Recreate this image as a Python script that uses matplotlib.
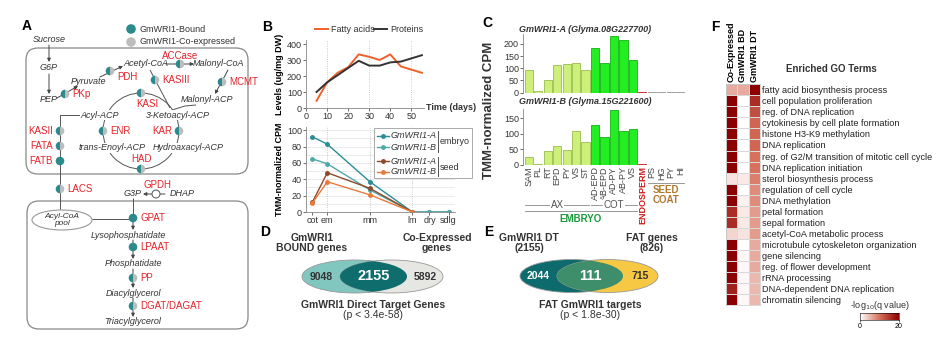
import numpy as np
import matplotlib
matplotlib.use("Agg")
import matplotlib.pyplot as plt
import matplotlib.transforms as mtrans
from matplotlib.patches import Ellipse, FancyBboxPatch, Wedge, Circle
from matplotlib.colors import LinearSegmentedColormap

plt.rcParams['font.family'] = ['Liberation Sans', 'DejaVu Sans']

W, H = 946, 353

# ---- B: seed composition during development
days = [5, 10, 15, 20, 25, 30, 35, 40, 45, 50, 55]
fatty_acids = [45, 160, 220, 255, 335, 320, 300, 335, 260, 240, 220]
proteins = [100, 160, 205, 250, 295, 265, 265, 285, 290, 310, 330]

stages = ['cot', 'em', 'mm', 'lm', 'dry', 'sdlg']
stage_days = [3, 10, 30, 50, 58, 67]
embryo_a = [92, 83, 37, 0, 0, 0]
embryo_b = [65, 59, 27, 0, 0, 0]
seed_a = [12, 48, 29, 0, np.nan, np.nan]
seed_b = [11, 37, 21, 0, np.nan, np.nan]

# ---- C: tissue expression
tissues = ['SAM', 'PL', 'RT', 'EPD', 'PY', 'VS', 'ST', 'AD-EPD', 'AB-EPD', 'AD-PY',
           'AB-PY', 'VS', 'ENDOSPERM', 'PS', 'HG', 'PY', 'HI']
tissue_group = ['AX'] * 7 + ['COT'] * 5 + ['ENDO'] + ['SC'] * 4
wri1a_cpm = [92, 5, 53, 113, 117, 122, 92, 183, 120, 230, 215, 133, 2, 2, 2, 2, 2]
wri1b_cpm = [25, 3, 45, 62, 48, 110, 73, 130, 90, 178, 108, 115, 2, 1, 1, 1, 1]

# ---- D / E: overlaps (left only, shared, right only)
venn_d = [9048, 2155, 5892]
venn_e = [2044, 111, 715]

# ---- F: GO enrichment, -log10(q)
go_terms = ['fatty acid biosynthesis process', 'cell population proliferation',
            'reg. of DNA replication', 'cytokinesis by cell plate formation',
            'histone H3-K9 methylation', 'DNA replication',
            'reg. of G2/M transition of mitotic cell cycle', 'DNA replication initiation',
            'sterol biosynthesis process', 'regulation of cell cycle', 'DNA methylation',
            'petal formation', 'sepal formation', 'acetyl-CoA metabolic process',
            'microtubule cytoskeleton organization', 'gene silencing',
            'reg. of flower development', 'rRNA processing',
            'DNA-dependent DNA replication', 'chromatin silencing']
go_sets = ['Co-Expressed', 'GmWRI1 BD', 'GmWRI1 DT']
q_coexpr = [6, 20, 20, 20, 20, 20, 20, 20, 2, 20, 20, 16, 16, 3, 20, 20, 20, 20, 17, 20]
q_bound = [6, 0, 0, 0, 0, 0, 0, 0, 1.5, 0, 1, 1.5, 1.5, 2, 0, 0.5, 0.5, 0.5, 0.5, 0.5]
q_direct = [20, 16, 13, 11, 11, 11, 10, 10, 9, 8, 8, 7, 7, 7, 6, 6, 6, 5, 5, 5]

TEAL = '#2b8b8c'
GREY = '#bdbdbd'
RED = '#e3242b'
DARK = '#333333'
FS = 6.5


def box(l, t, r, b):
    return [l / W, 1 - b / H, (r - l) / W, (b - t) / H]


def small_axes(ax):
    for s in ('top', 'right'):
        ax.spines[s].set_visible(False)
    for s in ('left', 'bottom'):
        ax.spines[s].set_color('#888888')
        ax.spines[s].set_linewidth(0.6)
    ax.tick_params(labelsize=6.5, length=2, width=0.5, pad=1, colors=DARK)


fig = plt.figure(figsize=(W / 100, H / 100), dpi=100)

# ---------------- B top
axb = fig.add_axes(box(306, 40, 424, 108))
axb.plot(days, fatty_acids, color='#f0602a', lw=1.4)
axb.plot(days, proteins, color='#333333', lw=1.4)
axb.set_xlim(0, 56)
axb.set_ylim(0, 425)
axb.set_xticks([0, 10, 20, 30, 40, 50])
axb.set_yticks([0, 100, 200, 300, 400])
for d in (10, 30, 50):
    axb.axvline(d, color='#bbbbbb', lw=0.6, ls=':', zorder=0)
small_axes(axb)
axb.set_ylabel('Levels (ug/mg DW)', fontsize=6.5, fontweight='bold', labelpad=2)

# ---------------- B bottom
axb2 = fig.add_axes(box(306, 127, 455, 212))
for v in range(10, 101, 10):
    axb2.axhline(v, color='#e3e3e3', lw=0.5, zorder=0)
for d in stage_days[1:4]:
    axb2.axvline(d, color='#bbbbbb', lw=0.6, ls=':', zorder=0)
for vals, c in ((embryo_a, '#2a8d96'), (embryo_b, '#4fa9a9'),
                (seed_a, '#8c4a2a'), (seed_b, '#ea7a3c')):
    axb2.plot(stage_days, vals, color=c, lw=1.0, marker='o', ms=2.5)
axb2.set_xlim(0, 70)
axb2.set_ylim(0, 104)
axb2.set_xticks(stage_days)
axb2.set_xticklabels(stages)
axb2.set_yticks(range(0, 101, 20))
small_axes(axb2)
axb2.set_ylabel('TMM-normalized CPM', fontsize=6.5, fontweight='bold', labelpad=2)

# ---------------- C
colors_c = {'AX': '#ccf07a', 'COT': '#22ee22', 'ENDO': '#d02020', 'SC': '#999999'}
edges_c = {'AX': '#9cbc4c', 'COT': '#16b016', 'ENDO': '#d02020', 'SC': '#999999'}
xc = np.arange(len(tissues))
axc1 = fig.add_axes(box(523, 34, 686, 92.7))
axc2 = fig.add_axes(box(523, 109, 686, 165))
for ax, vals, lim, ticks in ((axc1, wri1a_cpm, 240, [0, 50, 100, 150, 200]),
                             (axc2, wri1b_cpm, 180, [0, 50, 100, 150])):
    ax.bar(xc, vals, width=0.86, color=[colors_c[g] for g in tissue_group],
           edgecolor=[edges_c[g] for g in tissue_group], linewidth=0.6)
    ax.set_xlim(-0.6, len(tissues) - 0.4)
    ax.set_ylim(0, lim)
    ax.set_yticks(ticks)
    small_axes(ax)
    ax.spines['bottom'].set_visible(False)
    ax.tick_params(axis='x', length=0)
axc1.set_xticks([])
axc2.set_xticks(xc)
axc2.set_xticklabels(tissues, rotation=90, fontsize=6.5)
for lab, g in zip(axc2.get_xticklabels(), tissue_group):
    lab.set_color('#d01c1c' if g == 'ENDO' else '#444444')
    if g == 'ENDO':
        lab.set_fontweight('bold')

# ---------------- F heatmap
cmap = LinearSegmentedColormap.from_list('wr', ['#ffffff', '#d6715d', '#8b0000'])
axf = fig.add_axes(box(725.7, 84.3, 760, 305))
mat = np.array([q_coexpr, q_bound, q_direct]).T
axf.pcolormesh(mat, cmap=cmap, vmin=0, vmax=20, edgecolors='#d8d8d8', linewidth=0.4)
axf.set_ylim(len(go_terms), 0)
axf.set_xlim(0, 3)
axf.set_yticks(np.arange(len(go_terms)) + 0.5)
axf.set_yticklabels(go_terms, fontsize=6.6, color='#222222')
axf.yaxis.tick_right()
axf.set_xticks(np.arange(3) + 0.5)
axf.set_xticklabels(go_sets, rotation=90, fontsize=6.5, fontweight='bold')
axf.xaxis.tick_top()
axf.tick_params(length=0, pad=1.5)
for s in axf.spines.values():
    s.set_linewidth(0.4)
    s.set_color('#bbbbbb')

axcb = fig.add_axes(box(860, 313, 899, 320))
axcb.imshow(np.linspace(0, 20, 200)[None, :], cmap=cmap, aspect='auto', extent=[0, 20, 0, 1])
axcb.set_yticks([])
axcb.set_xticks([0, 20])
axcb.tick_params(labelsize=5, length=1.5, width=0.4, pad=0.5)
for s in axcb.spines.values():
    s.set_linewidth(0.4)

# ---------------- overlay in pixel coordinates
ov = fig.add_axes([0, 0, 1, 1])
ov.set_xlim(0, W)
ov.set_ylim(H, 0)
ov.axis('off')


def txt(x, y, s, size=FS, **kw):
    kw.setdefault('ha', 'center')
    kw.setdefault('va', 'center')
    kw.setdefault('color', DARK)
    ov.text(x, y, s, fontsize=size, **kw)


def itx(x, y, s, **kw):
    txt(x, y, s, style='italic', **kw)


def enz(x, y, name, kind='both', side='right', r=4.3):
    if kind == 'both':
        ov.add_patch(Wedge((x, y), r, 90, 270, fc=TEAL, ec='none', zorder=4))
        ov.add_patch(Wedge((x, y), r, 270, 90, fc=GREY, ec='none', zorder=4))
    elif kind == 'bound':
        ov.add_patch(Circle((x, y), r, fc=TEAL, ec='none', zorder=4))
    else:
        ov.add_patch(Circle((x, y), r, fc='white', ec='#555555', lw=0.7, zorder=4))
    if name:
        if side == 'right':
            txt(x + 7, y, name, color=RED, ha='left', size=7)
        else:
            txt(x - 7, y, name, color=RED, ha='right', size=7)


def arrow(x1, y1, x2, y2):
    ov.annotate('', xy=(x2, y2), xytext=(x1, y1),
                arrowprops=dict(arrowstyle='-|>', lw=0.7, color='#444444',
                                mutation_scale=5, shrinkA=0, shrinkB=0))


def line(xs, ys):
    ov.plot(xs, ys, color='#555555', lw=0.7, solid_capstyle='butt')


# panel letters
for lab, x, y in (('A', 27, 26), ('B', 267, 27), ('C', 487, 23), ('D', 265, 232),
                  ('E', 489, 232), ('F', 715, 27)):
    txt(x, y, lab, size=10, fontweight='bold', color='black')

# ---- A
ov.add_patch(Circle((131, 29), 4.8, fc=TEAL, ec='none'))
ov.add_patch(Circle((131, 42), 4.8, fc=GREY, ec='none'))
txt(139, 29, 'GmWRI1-Bound', ha='left')
txt(139, 42, 'GmWRI1-Co-expressed', ha='left')
ov.add_patch(FancyBboxPatch((26, 48), 222, 126, boxstyle='round,pad=0,rounding_size=12',
                            fc='none', ec='#888888', lw=0.9))
ov.add_patch(FancyBboxPatch((27, 201), 221, 128, boxstyle='round,pad=0,rounding_size=12',
                            fc='none', ec='#888888', lw=0.9))
itx(49, 40, 'Sucrose')
arrow(49, 45, 49, 62)
itx(49, 68, 'G6P')
arrow(49, 74, 49, 94)
itx(49, 100, 'PEP')
arrow(57, 98, 78, 86)
enz(65, 94, 'PKp')
itx(88, 82, 'Pyruvate')
arrow(100, 77, 123, 66)
enz(110, 71, None)
txt(117, 77, 'PDH', color=RED, ha='left', size=7)
itx(146, 64, 'Acetyl-CoA')
arrow(166, 64, 194, 64)
enz(180, 64, None)
txt(180, 56, 'ACCase', color=RED, size=7)
itx(218, 64, 'Malonyl-CoA')
line([150, 170], [70, 108])
enz(155, 80, 'KASIII')
arrow(228, 70, 215, 94)
enz(222, 82, 'MCMT')
itx(207, 100, 'Malonyl-ACP')
line([196, 185, 172], [105, 106, 110])
ov.add_patch(Circle((141, 131), 38, fc='none', ec='#555555', lw=0.7))
bb = dict(fc='white', ec='none', pad=0.6)
itx(100, 115, 'Acyl-ACP', bbox=bb)
itx(178, 115, '3-Ketoacyl-ACP', bbox=bb)
itx(112, 148, 'trans-Enoyl-ACP', bbox=bb)
itx(188, 148, 'Hydroaxacyl-ACP', bbox=bb)
enz(141, 93, None)
txt(147, 104, 'KASI', color=RED, size=7)
enz(103, 131, 'ENR')
enz(179, 131, 'KAR', side='left')
enz(141, 169, None)
txt(141, 159, 'HAD', color=RED, size=7)
line([81, 60, 60], [115, 115, 209])
enz(60, 131, 'KASII', side='left')
enz(60, 146, 'FATA', side='left')
enz(60, 161, 'FATB', kind='bound', side='left')
enz(60, 189, 'LACS')
ov.add_patch(Ellipse((62, 220), 60, 20, fc='white', ec='#999999', lw=0.8))
itx(62, 220, 'Acyl-CoA\npool', size=6, linespacing=0.85)
line([92, 133], [219, 219])
itx(133, 193, 'G3P')
arrow(165, 194, 143, 194)
enz(156, 194, None, kind='open', r=4)
txt(157, 185, 'GPDH', color=RED, size=7)
itx(182, 193, 'DHAP')
line([133, 133], [198, 214])
arrow(133, 220, 133, 230)
enz(133, 218, 'GPAT', kind='bound')
itx(128, 235, 'Lysophosphatidate')
arrow(133, 240, 133, 259)
enz(133, 247, 'LPAAT', kind='bound')
itx(133, 264, 'Phosphatidate')
arrow(133, 269, 133, 288)
enz(133, 278, 'PP')
itx(133, 293, 'Diacylglycerol')
arrow(133, 298, 133, 317)
enz(133, 306, 'DGAT/DAGAT')
itx(133, 322, 'Triacylglycerol')

# ---- B legends
ov.plot([315, 328], [29, 29], color='#f0602a', lw=1.4)
txt(331, 29, 'Fatty acids', ha='left')
ov.plot([374, 387], [29, 29], color='#333333', lw=1.4)
txt(390, 29, 'Proteins', ha='left')
txt(426, 108, 'Time (days)', ha='left', fontweight='bold')
ov.add_patch(FancyBboxPatch((374, 128), 98, 50, boxstyle='square,pad=0',
                            fc='white', ec='#aaaaaa', lw=0.7, zorder=3))
for yy, c, name in ((136, '#2a8d96', 'GmWRI1-A'), (147, '#4fa9a9', 'GmWRI1-B'),
                    (161, '#8c4a2a', 'GmWRI1-A'), (172, '#ea7a3c', 'GmWRI1-B')):
    ov.plot([377, 389], [yy, yy], color=c, lw=1.0, zorder=4)
    ov.plot([383], [yy], color=c, marker='o', ms=2.5, zorder=4)
    itx(391, yy, name, ha='left', size=6.5, zorder=4)
for y1, y2, ym, name in ((131, 152, 141, 'embryo'), (157, 176, 167, 'seed')):
    ov.plot([438, 438], [y1, y2], color='#555555', lw=0.7, zorder=4)
    txt(440, ym, name, ha='left', size=6.5, zorder=4)

# ---- C annotations
txt(585, 29, 'GmWRI1-A (Glyma.08G227700)', fontweight='bold', style='italic')
txt(585, 101, 'GmWRI1-B (Glyma.15G221600)', fontweight='bold', style='italic')
txt(489, 110, 'TMM-normalized CPM', size=9.5, fontweight='bold', rotation=90)
tr = mtrans.blended_transform_factory(axc2.transData, ov.transData)
gl = dict(color='#888888', lw=0.6, transform=tr, clip_on=False)
for g in ('AX', 'COT'):
    idx = [i for i, t in enumerate(tissue_group) if t == g]
    ov.plot([idx[0] - 0.4, idx[-1] + 0.4], [205, 205], **gl)
    ov.text((idx[0] + idx[-1]) / 2, 205, g, transform=tr, ha='center', va='center',
            fontsize=7, color='#555555', bbox=dict(fc='white', ec='none', pad=0.5))
emb = [i for i, t in enumerate(tissue_group) if t in ('AX', 'COT')]
ov.plot([emb[0] - 0.4, emb[-1] + 0.4], [211, 211], **gl)
ov.text((emb[0] + emb[-1]) / 2, 219, 'EMBRYO', transform=tr, ha='center', va='center',
        fontsize=7, color='#1a9a3a', fontweight='bold')
sc = [i for i, t in enumerate(tissue_group) if t == 'SC']
ov.plot([sc[0] - 0.4, sc[-1] + 0.4], [183, 183], **gl)
ov.text((sc[0] + sc[-1]) / 2, 195, 'SEED\nCOAT', transform=tr, ha='center', va='center',
        fontsize=7, color='#b3782e', fontweight='bold', linespacing=0.9)


# ---- D / E venn
def venn(cx1, w1, cx2, w2, cy, c1, c2, c12, counts, fg):
    e1 = Ellipse((cx1, cy), w1, 33, fc=c1, ec='#999999', lw=0.6)
    e2 = Ellipse((cx2, cy), w2, 33, fc=c2, ec='#999999', lw=0.6)
    ov.add_patch(e1)
    ov.add_patch(e2)
    inter = Ellipse((cx2, cy), w2, 33, fc=c12, ec='none')
    ov.add_patch(inter)
    inter.set_clip_path(e1)
    l_end = cx1 + w1 / 2
    r_start = cx2 - w2 / 2
    txt((cx1 - w1 / 2 + r_start) / 2, cy, str(counts[0]), fontweight='bold', size=7.5, color=fg[0])
    txt((r_start + l_end) / 2, cy, str(counts[1]), fontweight='bold', size=10.5, color='white')
    txt((l_end + cx2 + w2 / 2) / 2, cy, str(counts[2]), fontweight='bold', size=7.5, color=fg[2])


venn(354.5, 105, 391.5, 103, 276.5, '#82c6c0', '#e6e6e2', '#0f6d6e', venn_d,
     [DARK, None, DARK])
txt(312, 243, 'GmWRI1\nBOUND genes', fontweight='bold', size=7.5, linespacing=0.95)
txt(437, 243, 'Co-Expressed\ngenes', fontweight='bold', size=7.5, linespacing=0.95)
txt(373, 305, 'GmWRI1 Direct Target Genes', fontweight='bold', size=7.5)
txt(373, 315, '(p < 3.4e-58)', size=7.5)

venn(571.5, 103, 607.5, 101, 276, '#0d6b6e', '#f6c843', '#3e8e6b', venn_e,
     ['white', None, DARK])
txt(529, 243, 'GmWRI1 DT\n(2155)', fontweight='bold', size=7.5, linespacing=0.95)
txt(652, 243, 'FAT genes\n(826)', fontweight='bold', size=7.5, linespacing=0.95)
txt(590, 305, 'FAT GmWRI1 targets', fontweight='bold', size=7.5)
txt(590, 315, '(p < 1.8e-30)', size=7.5)

# ---- F annotations
txt(831, 69, 'Enriched GO Terms', fontweight='bold', size=7)
txt(880, 305, '-log$_{10}$(q value)', size=6.5)

fig.savefig('out.png', dpi=100)
